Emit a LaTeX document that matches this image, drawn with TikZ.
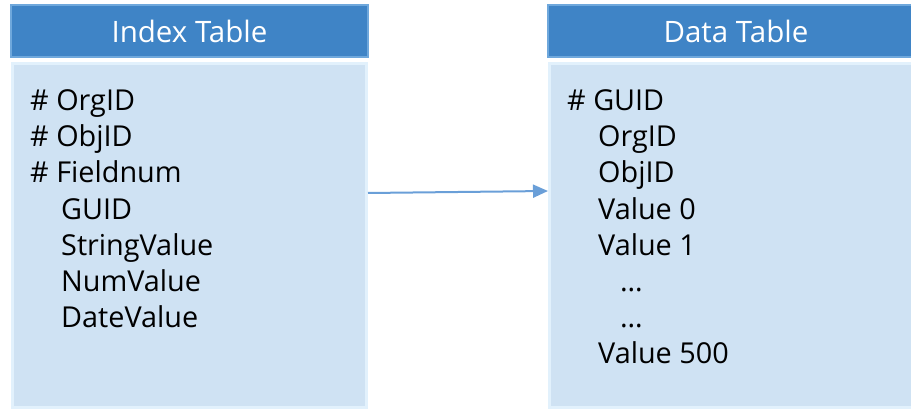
\documentclass[tikz,border=0pt]{standalone}
\usepackage{fontspec}
\setmainfont{Open Sans}
\usetikzlibrary{arrows.meta}
\definecolor{hdrfill}{HTML}{3F84C6}
\definecolor{hdrline}{HTML}{6FA8DC}
\definecolor{bodyfill}{HTML}{CFE2F3}
\definecolor{bodyline}{HTML}{E2F1FC}
\definecolor{arrowc}{HTML}{6A9FD8}
\tikzset{
  hdr/.style={draw=hdrline, line width=1.5pt, fill=hdrfill, inner sep=0pt},
  tbody/.style={draw=bodyline, line width=3pt, fill=bodyfill, inner sep=0pt},
  hdrtext/.style={text=white, font=\fontsize{29.5}{34}\selectfont, inner sep=0pt},
  item/.style={anchor=base west, inner sep=0pt, font=\fontsize{28.8}{36}\selectfont, text=black},
  link/.style={draw=arrowc, line width=2pt, -{Triangle[length=15pt,width=13pt]}}
}
\begin{document}
\begin{tikzpicture}[x=1pt,y=-1pt]
\useasboundingbox (0,0) rectangle (911,409);
% left table
\draw[hdr] (11,5) rectangle (368,57);
\node[hdrtext] (lhead) at (189.5,31) {Index Table};
\draw[tbody] (12.5,63.5) rectangle (366.5,407);
\coordinate (lbodyE) at (368,193);
% right table
\draw[hdr] (548,5) rectangle (925,57);
\node[hdrtext] (rhead) at (736,31) {Data Table};
\draw[tbody] (549.5,63.5) rectangle (925,407);
\coordinate (rbodyW) at (548,191);
% left items
\node[item] (l1) at (30,111) {\# OrgID};
\node[item] (l2) at (30,147) {\# ObjID};
\node[item] (l3) at (30,183) {\# Fieldnum};
\node[item] (l4) at (61,219) {GUID};
\node[item] (l5) at (61,255) {StringValue};
\node[item] (l6) at (61,291) {NumValue};
\node[item] (l7) at (61,327) {DateValue};
% right items
\node[item] (r1) at (567,111) {\# GUID};
\node[item] (r2) at (598,147) {OrgID};
\node[item] (r3) at (598,183) {ObjID};
\node[item] (r4) at (598,219) {Value 0};
\node[item] (r5) at (598,255) {Value 1};
\node[item] (r6) at (620,291) {\dots};
\node[item] (r7) at (620,327) {\dots};
\node[item] (r8) at (598,363) {Value 500};
% connector
\draw[link] (lbodyE) -- (rbodyW);
\end{tikzpicture}
\end{document}
